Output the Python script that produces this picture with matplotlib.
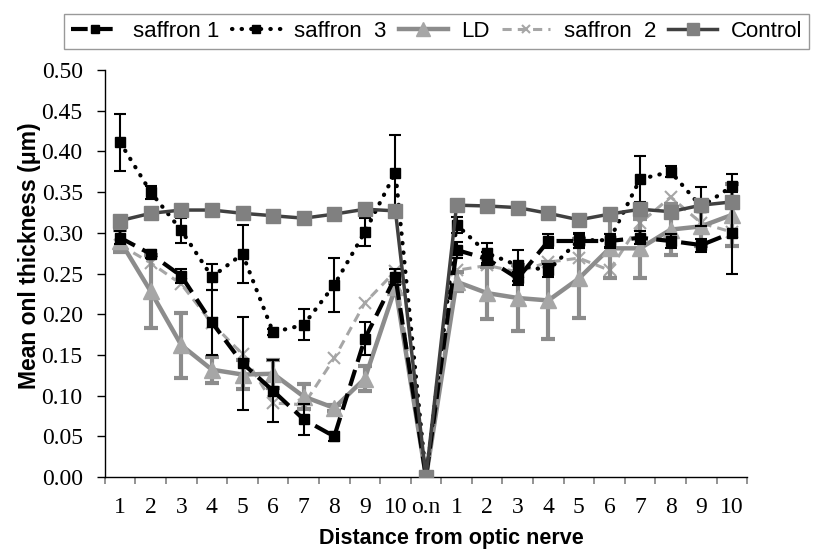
import numpy as np
import matplotlib
matplotlib.use('Agg')
import matplotlib.pyplot as plt
from matplotlib.ticker import FixedLocator, FormatStrFormatter

positions = ['1', '2', '3', '4', '5', '6', '7', '8', '9', '10', 'o.n',
             '1', '2', '3', '4', '5', '6', '7', '8', '9', '10']

saffron1 = [0.294, 0.274, 0.247, 0.190, 0.140, 0.106, 0.071, 0.050, 0.170, 0.246, 0.0,
            0.279, 0.268, 0.244, 0.290, 0.290, 0.290, 0.294, 0.290, 0.285, 0.300]
saffron1_err = [0.008, 0.005, 0.008, 0.040, 0.057, 0.038, 0.019, 0.005, 0.020, 0.010, 0.0,
                0.010, 0.008, 0.008, 0.008, 0.008, 0.008, 0.008, 0.008, 0.008, 0.050]

saffron3 = [0.411, 0.350, 0.303, 0.246, 0.274, 0.178, 0.187, 0.236, 0.301, 0.374, 0.0,
            0.310, 0.275, 0.260, 0.254, 0.291, 0.291, 0.366, 0.375, 0.332, 0.357]
saffron3_err = [0.035, 0.008, 0.015, 0.016, 0.036, 0.004, 0.019, 0.033, 0.017, 0.046, 0.0,
                0.010, 0.012, 0.019, 0.008, 0.009, 0.008, 0.028, 0.007, 0.024, 0.015]

ld = [0.290, 0.228, 0.162, 0.132, 0.126, 0.127, 0.099, 0.085, 0.121, 0.233, 0.0,
      0.240, 0.226, 0.220, 0.217, 0.244, 0.281, 0.281, 0.304, 0.308, 0.322]
ld_err = [0.014, 0.045, 0.040, 0.016, 0.018, 0.017, 0.015, 0.004, 0.015, 0.006, 0.0,
          0.012, 0.032, 0.041, 0.047, 0.049, 0.036, 0.036, 0.031, 0.024, 0.038]

saffron2 = [0.285, 0.263, 0.237, 0.189, 0.151, 0.091, 0.089, 0.146, 0.214, 0.253, 0.0,
            0.254, 0.260, 0.252, 0.264, 0.269, 0.254, 0.312, 0.344, 0.312, 0.301]

control = [0.315, 0.324, 0.328, 0.328, 0.324, 0.321, 0.318, 0.323, 0.329, 0.327, 0.0,
           0.334, 0.333, 0.331, 0.324, 0.316, 0.323, 0.329, 0.326, 0.334, 0.338]

x = np.arange(len(positions))

fig = plt.figure(figsize=(8.13, 5.51), dpi=100)
ax = fig.add_axes([0.129, 0.134, 0.790, 0.739])

# saffron 2 (light grey dashed, x markers)
l_s2, = ax.plot(x, saffron2, color='#a6a6a6', ls=(0, (3, 2)), lw=2.2,
                marker='x', ms=8, mew=1.5, mec='#a6a6a6', zorder=3)

# LD
ax.errorbar(x, ld, yerr=ld_err, fmt='none', ecolor='#8c8c8c', elinewidth=3,
            capsize=5, capthick=3, zorder=3)
l_ld, = ax.plot(x, ld, color='#8c8c8c', lw=3.2, marker='^', ms=12,
                mfc='#a6a6a6', mec='#a6a6a6', zorder=4)

# saffron 1
ax.errorbar(x, saffron1, yerr=saffron1_err, fmt='none', ecolor='black', elinewidth=1.5,
            capsize=4, capthick=1.5, zorder=5)
l_s1, = ax.plot(x, saffron1, color='black', ls=(0, (4, 2)), lw=3,
                marker='s', ms=7, mfc='black', mec='black', zorder=5)

# saffron 3
ax.errorbar(x, saffron3, yerr=saffron3_err, fmt='none', ecolor='black', elinewidth=1.5,
            capsize=4, capthick=1.5, zorder=5)
l_s3, = ax.plot(x, saffron3, color='black', ls=(0, (0.1, 2.2)), lw=3,
                dash_capstyle='round', marker='s', ms=7, mfc='black', mec='black', zorder=5)

# control
l_c, = ax.plot(x, control, color='#404040', lw=2.5, marker='s', ms=10,
               mfc='#808080', mec='#808080', zorder=6)

ax.set_xlim(-0.5, len(x) - 0.5)
ax.set_ylim(0, 0.5)
ax.set_yticks(np.arange(0, 0.501, 0.05))
ax.yaxis.set_major_formatter(FormatStrFormatter('%.2f'))
ax.set_xticks(x)
ax.set_xticklabels(positions)
ax.xaxis.set_minor_locator(FixedLocator(np.arange(-0.5, len(x), 1.0)))
ax.tick_params(axis='x', which='major', length=0, pad=14,
               labelsize=17, labelfontfamily='Liberation Serif')
ax.tick_params(axis='x', which='minor', length=5, width=1.2, color='#808080', direction='out')
ax.tick_params(axis='y', length=6, width=1, direction='out', pad=10,
               labelsize=17, labelfontfamily='Liberation Serif')

ax.spines['top'].set_visible(False)
ax.spines['right'].set_visible(False)
ax.spines['left'].set_linewidth(1)
ax.spines['bottom'].set_linewidth(1)

ax.set_xlabel('Distance from optic nerve', fontfamily='Liberation Sans',
              fontweight='bold', fontsize=15.5, va='center')
ax.xaxis.set_label_coords(0.54, -0.150)
ax.set_ylabel('Mean onl thickness (\u03bcm)', fontfamily='Liberation Sans',
              fontweight='bold', fontsize=16.5, va='center')
ax.yaxis.set_label_coords(-0.117, 0.544)

leg = fig.legend([l_s1, l_s3, l_ld, l_s2, l_c],
                 ['saffron 1', 'saffron  3', 'LD', 'saffron  2', 'Control'],
                 loc='center', bbox_to_anchor=(0.537, 0.943), ncol=5,
                 frameon=True, fancybox=False, edgecolor='#808080',
                 prop={'family': 'Liberation Sans', 'size': 16},
                 handlelength=2.2, handletextpad=0.6, columnspacing=0.55,
                 borderpad=0.3, borderaxespad=0, markerscale=0.8)
leg.get_frame().set_linewidth(1)

fig.savefig('out.png', dpi=100)
